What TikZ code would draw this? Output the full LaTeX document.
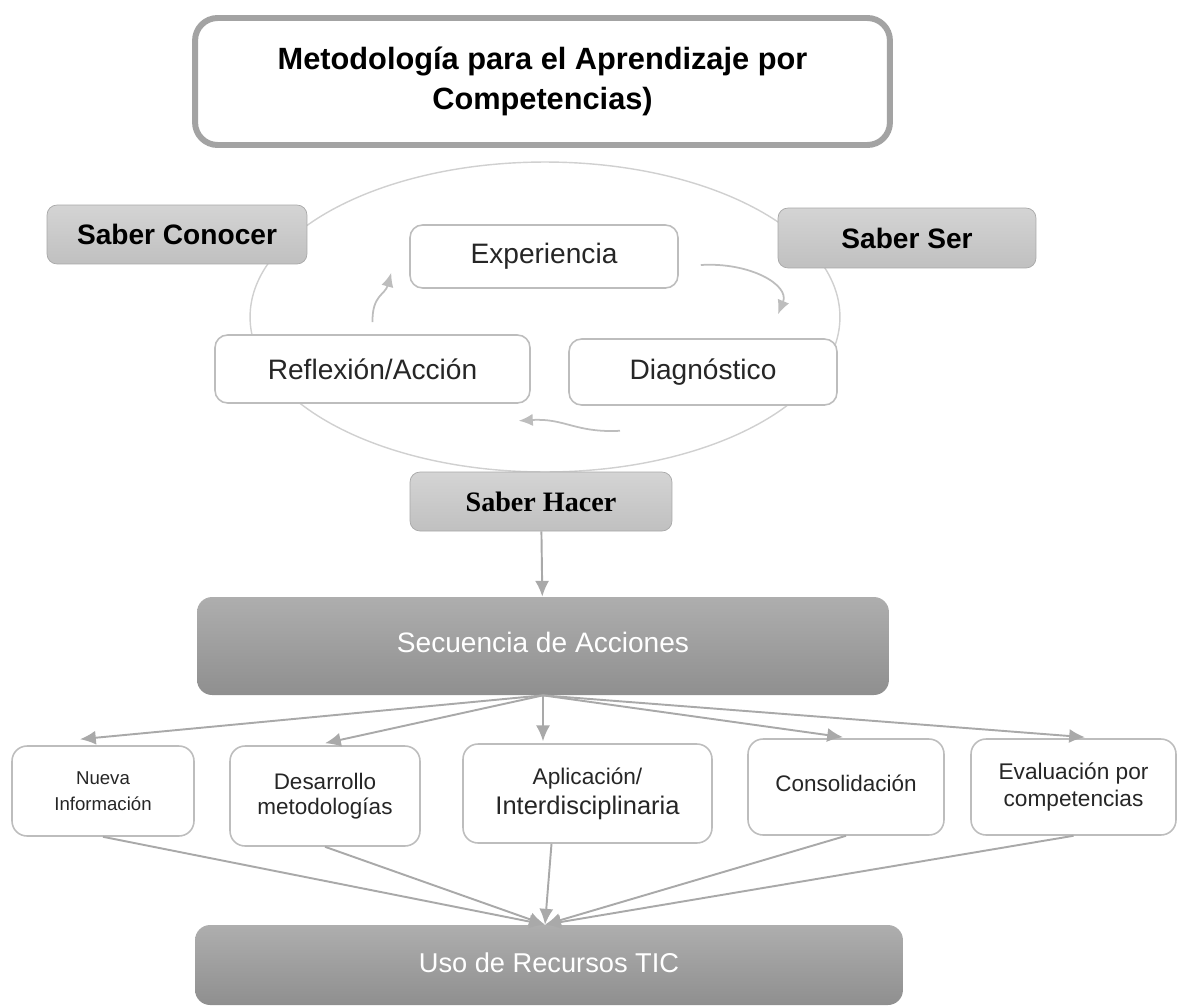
\documentclass[tikz,border=0pt]{standalone}
\usepackage{fontspec}
\setmainfont{Liberation Sans}
\newfontfamily\hacerfont{Liberation Serif}
\usetikzlibrary{shapes,arrows.meta,calc}
\definecolor{frame}{HTML}{A3A3A3}
\definecolor{saberline}{HTML}{A8A8A8}
\definecolor{sabertop}{HTML}{D4D4D4}
\definecolor{saberbot}{HTML}{C0C0C0}
\definecolor{phaseline}{HTML}{BDBDBD}
\definecolor{ringline}{HTML}{D0D0D0}
\definecolor{seqtop}{HTML}{AEAEAE}
\definecolor{seqbot}{HTML}{8F8F8F}
\definecolor{linkline}{HTML}{A9A9A9}
\tikzset{%
  titlebox/.style = {draw=frame, line width=3.4pt, rounded corners=0.45cm,
    fill=white, align=center, font=\fontsize{17.5}{22.7}\selectfont\bfseries},
  saber/.style    = {draw=saberline, rounded corners=0.2cm, top color=sabertop,
    bottom color=saberbot, font=\fontsize{16}{19}\selectfont\bfseries}, % Saberes
  phase/.style    = {draw=phaseline, line width=0.9pt, rounded corners=0.25cm,
    fill=white, text=black!85, font=\fontsize{16}{19}\selectfont}, % Ciclo
  seqbox/.style   = {rounded corners=0.3cm, top color=seqtop, bottom color=seqbot,
    text=white, font=\fontsize{16}{19}\selectfont},
  sub/.style      = {draw=phaseline, line width=0.9pt, rounded corners=0.3cm,
    fill=white, align=center, text=black!85},
  link/.style     = {draw=linkline, line width=1.1pt,
    -{Latex[length=9pt,width=8pt]}},
  cyclink/.style  = {draw=phaseline, line width=1pt,
    -{Latex[length=8pt,width=7pt]}}
}

\begin{document}
\begin{tikzpicture}[x=0.02cm, y=-0.02cm]
  \useasboundingbox (0,0) rectangle (1182,1007);
  \draw[ringline, line width=0.8pt] (545,317) ellipse (5.9cm and 3.1cm);

  \node[titlebox, minimum width=13.9cm, minimum height=2.54cm] (title) at (542.5,81.5)
    {Metodología para el Aprendizaje por\\Competencias)};
  \node[saber, minimum width=5.2cm, minimum height=1.18cm] (conocer) at (177,234.5) {Saber Conocer};
  \node[saber, minimum width=5.16cm, minimum height=1.2cm] (ser) at (907,238) {Saber Ser};
  \node[phase, minimum width=5.36cm, minimum height=1.26cm] (exp) at (544,256.5) {Experiencia};
  \node[phase, minimum width=6.3cm, minimum height=1.36cm] (refl) at (372.5,369) {Reflexión/Acción};
  \node[phase, minimum width=5.36cm, minimum height=1.32cm] (diag) at (703,372) {Diagnóstico};
  \node[saber, minimum width=5.24cm, minimum height=1.18cm, font=\fontsize{16}{19}\selectfont\hacerfont\bfseries]
    (hacer) at (541,501.5) {Saber Hacer};
  \node[seqbox, minimum width=13.84cm, minimum height=1.96cm] (seq) at (543,646)
    {\raisebox{0.16cm}{Secuencia de Acciones}};

  \node[sub, minimum width=3.64cm, minimum height=1.8cm, font=\fontsize{10.6}{14.7}\selectfont]
    (sub1) at (103,791) {Nueva\\Información};
  \node[sub, minimum width=3.8cm, minimum height=2cm, font=\fontsize{12.8}{14.2}\selectfont]
    (sub2) at (325,796) {Desarrollo\\metodologías};
  \node[sub, minimum width=4.98cm, minimum height=1.98cm, font=\fontsize{12.9}{17}\selectfont]
    (sub3) at (587.5,793.5) {Aplicación/\\{\fontsize{14.5}{17}\selectfont Interdisciplinaria}};
  \node[sub, minimum width=3.92cm, minimum height=1.92cm, font=\fontsize{12.8}{15}\selectfont]
    (sub4) at (846,787) {\raisebox{0.14cm}{Consolidación}};
  \node[sub, minimum width=4.1cm, minimum height=1.92cm, font=\fontsize{12.9}{15.3}\selectfont]
    (sub5) at (1073.5,787) {Evaluación por\\competencias};
  \node[seqbox, minimum width=14.16cm, minimum height=1.6cm, font=\fontsize{15.5}{18}\selectfont]
    (tic) at (549,965) {\raisebox{0.1cm}{Uso de Recursos TIC}};

  \draw[cyclink] ($(exp.east)+(22,8.5)$) .. controls (750,262) and (790,285) .. ($(diag.north)+(75,-24)$);
  \draw[cyclink] ($(diag.south)+(-83,25)$) .. controls (575,433) and (565,418) .. ($(refl.south east)+(-12,17)$);
  \draw[cyclink] ($(refl.north)+(0,-12)$) .. controls (372,295) and (385,295) .. ($(exp.south west)+(-18,-16)$);

  \draw[link] (hacer) -- (seq);
  \draw[link] (seq.south) -- ($(sub1.north)+(-23,-6)$);
  \draw[link] (seq.south) -- ($(sub2.north)+(0,-2)$);
  \draw[link] (seq.south) -- ($(sub3.north)+(-44.5,-2)$);
  \draw[link] (seq.south) -- ($(sub4.north)+(-3,-1)$);
  \draw[link] (seq.south) -- ($(sub5.north)+(11.5,-1)$);
  \draw[link] (sub1.south) -- ($(tic.north)+(-4,0)$);
  \draw[link] (sub2.south) -- ($(tic.north)+(-4,0)$);
  \draw[link] ($(sub3.south)+(-36,0)$) -- ($(tic.north)+(-4,0)$);
  \draw[link] (sub4.south) -- ($(tic.north)+(-4,0)$);
  \draw[link] (sub5.south) -- ($(tic.north)+(-4,0)$);
\end{tikzpicture}
\end{document}
